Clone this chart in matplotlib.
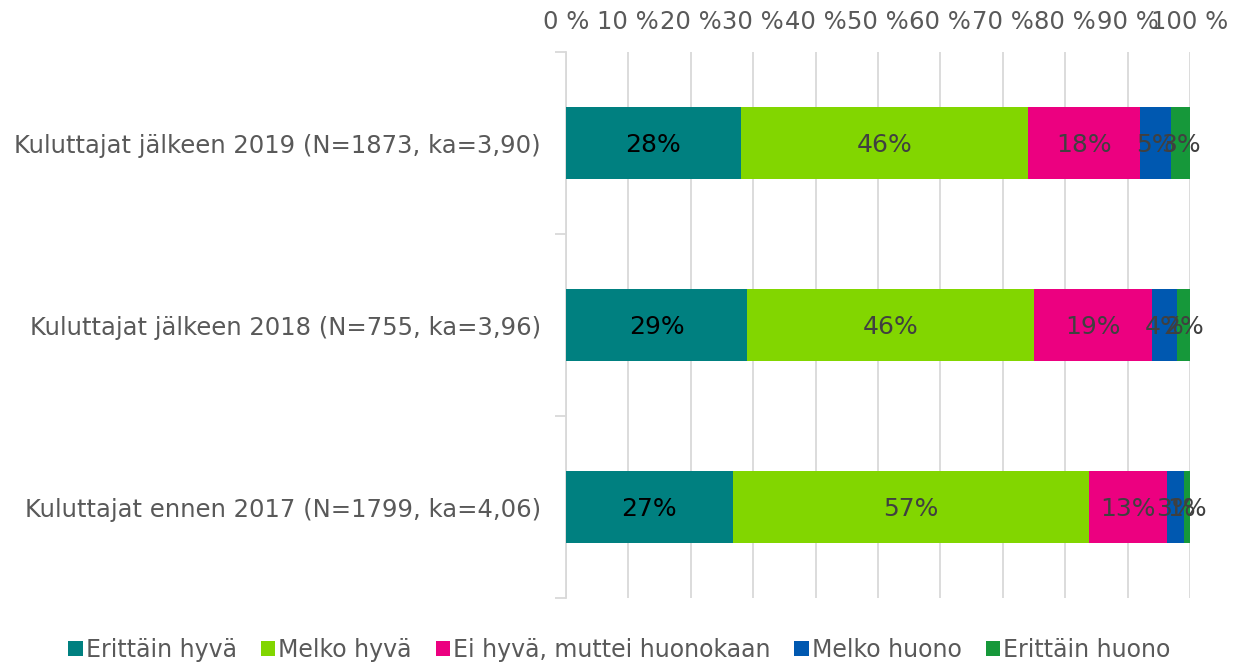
import numpy as np
import matplotlib
matplotlib.use("Agg")
import matplotlib.pyplot as plt

categories = ["Kuluttajat jälkeen 2019 (N=1873, ka=3,90)",
              "Kuluttajat jälkeen 2018 (N=755, ka=3,96)",
              "Kuluttajat ennen 2017 (N=1799, ka=4,06)"]
series = ["Erittäin hyvä", "Melko hyvä", "Ei hyvä, muttei huonokaan",
          "Melko huono", "Erittäin huono"]
erittain_hyva = [28, 29, 26.7]
melko_hyva = [46, 46, 57.1]
ei_hyva = [18, 19, 12.6]
melko_huono = [5, 4, 2.6]
erittain_huono = [3, 2, 1.0]
ticks = [0, 10, 20, 30, 40, 50, 60, 70, 80, 90, 100]

values = [erittain_hyva, melko_hyva, ei_hyva, melko_huono, erittain_huono]
colors = ["#008080", "#82D600", "#EC0080", "#0058B0", "#16983A"]
label_colors = ["#000000", "#404040", "#404040", "#404040", "#404040"]

plt.rcParams['font.family'] = ['DejaVu Sans']
fig = plt.figure(figsize=(12.39, 6.63), dpi=100)
ax = fig.add_axes([0.4568, 0.098, 0.5036, 0.8235])

y = np.arange(len(categories))
left = np.zeros(len(categories))
for vals, name, c, lc in zip(values, series, colors, label_colors):
    vals = np.array(vals)
    ax.barh(y, vals, left=left, height=0.4, color=c, label=name, zorder=3)
    # labels overlap on the thin segments, same as in the original
    for yi, l, v in zip(y, left, vals):
        ax.text(l + v / 2, yi + 0.01, "%d%%" % round(v), ha="center", va="center",
                fontsize=18, color=lc, zorder=4)
    left += vals

ax.set_xlim(0, 100)
ax.set_ylim(2.5, -0.5)
ax.xaxis.tick_top()
ax.set_xticks(ticks)
ax.set_xticklabels(["%d %%" % t for t in ticks], fontsize=17.5, color="#595959")
ax.tick_params(axis="x", length=0, pad=13)
ax.grid(axis="x", color="#d9d9d9", linewidth=1.3, zorder=0)

ax.set_yticks(y)
ax.set_yticklabels(categories, fontsize=17.5, color="#595959")
ax.tick_params(axis="y", length=0, pad=18)
ax.set_yticks([-0.5, 0.5, 1.5, 2.5], minor=True)
ax.tick_params(axis="y", which="minor", length=8, color="#d9d9d9", width=1.3)

for s in ["top", "right", "bottom"]:
    ax.spines[s].set_visible(False)
ax.spines["left"].set_color("#d9d9d9")
ax.spines["left"].set_linewidth(1.3)

leg = fig.legend(loc="lower center", bbox_to_anchor=(0.5, -0.03), ncol=5,
                 frameon=False, fontsize=17, handlelength=0.6, handleheight=0.6,
                 handletextpad=0.15, columnspacing=1.0, labelcolor="#595959")

fig.savefig("out.png", dpi=100)
